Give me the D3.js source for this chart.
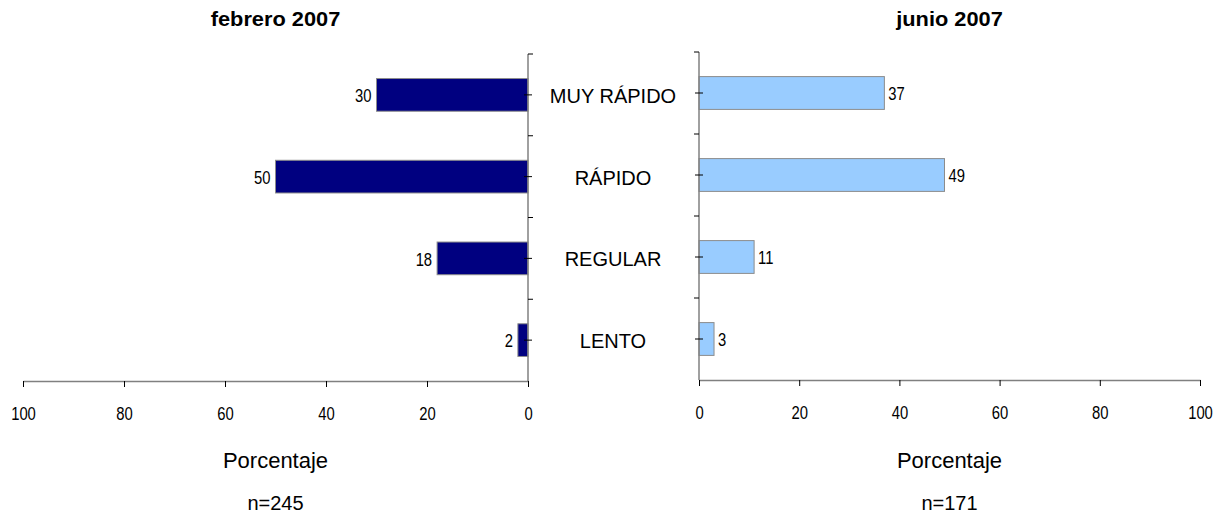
<!DOCTYPE html>
<html>
<head>
<meta charset="utf-8">
<script src="https://cdn.jsdelivr.net/npm/d3@7"></script>
<style>
  body { margin: 0; background: #fff; }
  svg { display: block; }
  text { font-family: Arial, "Liberation Sans", sans-serif; fill: #000; }
</style>
</head>
<body>
<svg id="chart" width="1229" height="515"></svg>
<script>
// Speed ratings, share of respondents (%)
const categories = ["MUY RÁPIDO", "RÁPIDO", "REGULAR", "LENTO"];
const febValues = [30, 50, 18, 2];
const junValues = [37, 49, 11, 3];
const tickValues = [0, 20, 40, 60, 80, 100];
const panelTitles = ["febrero 2007", "junio 2007"];
const sampleLabels = ["n=245", "n=171"];
const axisTitle = "Porcentaje";

// numbers are set in a condensed face
const NARROW = 0.78;
const NUM_SIZE = 19;

const svg = d3.select("#chart");

// Two mirrored panels sharing the category labels in the middle
const panels = [
  { values: febValues, title: panelTitles[0], n: sampleLabels[0],
    x: d3.scaleLinear().domain([0, 100]).range([528, 23]),
    y: d3.scaleBand().domain(categories).range([54, 381]).paddingInner(0.6).paddingOuter(0.3),
    fill: "#000080", side: -1 },
  { values: junValues, title: panelTitles[1], n: sampleLabels[1],
    x: d3.scaleLinear().domain([0, 100]).range([699, 1200]),
    y: d3.scaleBand().domain(categories).range([52, 380]).paddingInner(0.6).paddingOuter(0.3),
    fill: "#99ccff", side: 1 }
];

panels.forEach(p => {
  const g = svg.append("g");
  const x0 = p.x(0);
  const [yTop, yBot] = p.y.range();
  const cx = (p.x.range()[0] + p.x.range()[1]) / 2;
  const rows = categories.map((c, i) => ({ c, v: p.values[i] }));

  // bars
  g.selectAll("rect.bar")
    .data(rows)
    .join("rect")
    .attr("class", "bar")
    .attr("x", d => Math.min(p.x(d.v), x0))
    .attr("y", d => p.y(d.c))
    .attr("width", d => Math.abs(p.x(d.v) - x0))
    .attr("height", p.y.bandwidth())
    .attr("fill", p.fill)
    .attr("stroke", "#8c8c8c")
    .attr("stroke-width", 1);

  // value labels
  g.selectAll("text.val")
    .data(rows)
    .join("text")
    .attr("class", "val")
    .attr("transform", d =>
      `translate(${p.x(d.v) + (p.side < 0 ? -5 : 4)},${p.y(d.c) + p.y.bandwidth() / 2 + 1}) scale(${NARROW},1)`)
    .attr("text-anchor", p.side < 0 ? "end" : "start")
    .attr("dominant-baseline", "central")
    .attr("font-size", NUM_SIZE)
    .text(d => d.v);

  // horizontal value axis
  const axis = d3.axisBottom(p.x).tickValues(tickValues).tickSize(6).tickSizeOuter(0).tickPadding(20);
  const ax = g.append("g").attr("transform", `translate(0,${yBot})`).call(axis);
  ax.attr("font-family", null).attr("font-size", null);
  ax.select(".domain").attr("stroke", "#808080").attr("stroke-width", 1.5);
  ax.selectAll(".tick line").attr("stroke", "#000");
  ax.selectAll(".tick text")
    .attr("font-size", NUM_SIZE)
    .attr("transform", `scale(${NARROW},1)`);

  // category axis line at zero
  g.append("line")
    .attr("x1", x0).attr("x2", x0).attr("y1", yTop).attr("y2", yBot)
    .attr("stroke", "#808080").attr("stroke-width", 1.5);

  // boundary ticks between categories (outside), centre ticks crossing the axis
  const step = p.y.step();
  const bounds = d3.range(categories.length).map(i => yTop + i * step);
  g.selectAll("line.bt").data(bounds).join("line")
    .attr("x1", x0).attr("x2", x0 - p.side * 5)
    .attr("y1", d => d).attr("y2", d => d)
    .attr("stroke", "#000").attr("stroke-width", 1);
  g.selectAll("line.ct").data(categories).join("line")
    .attr("x1", x0 - 4).attr("x2", x0 + 4)
    .attr("y1", d => p.y(d) + p.y.bandwidth() / 2)
    .attr("y2", d => p.y(d) + p.y.bandwidth() / 2)
    .attr("stroke", "#000").attr("stroke-width", 1);

  // panel title
  g.append("text")
    .attr("transform", `translate(${cx},26) scale(1.09,1)`)
    .attr("text-anchor", "middle")
    .attr("font-size", 20).attr("font-weight", "bold")
    .text(p.title);

  // axis title and sample size
  g.append("text")
    .attr("x", cx).attr("y", 468)
    .attr("text-anchor", "middle").attr("font-size", 22)
    .text(axisTitle);
  g.append("text")
    .attr("x", cx).attr("y", 510)
    .attr("text-anchor", "middle").attr("font-size", 20)
    .text(p.n);
});

// shared category labels between the panels
const yMid = panels[0].y;
svg.append("g").selectAll("text").data(categories).join("text")
  .attr("x", 613)
  .attr("y", d => yMid(d) + yMid.bandwidth() / 2 + 1)
  .attr("text-anchor", "middle")
  .attr("dominant-baseline", "central")
  .attr("font-size", 20)
  .text(d => d);
</script>
</body>
</html>
